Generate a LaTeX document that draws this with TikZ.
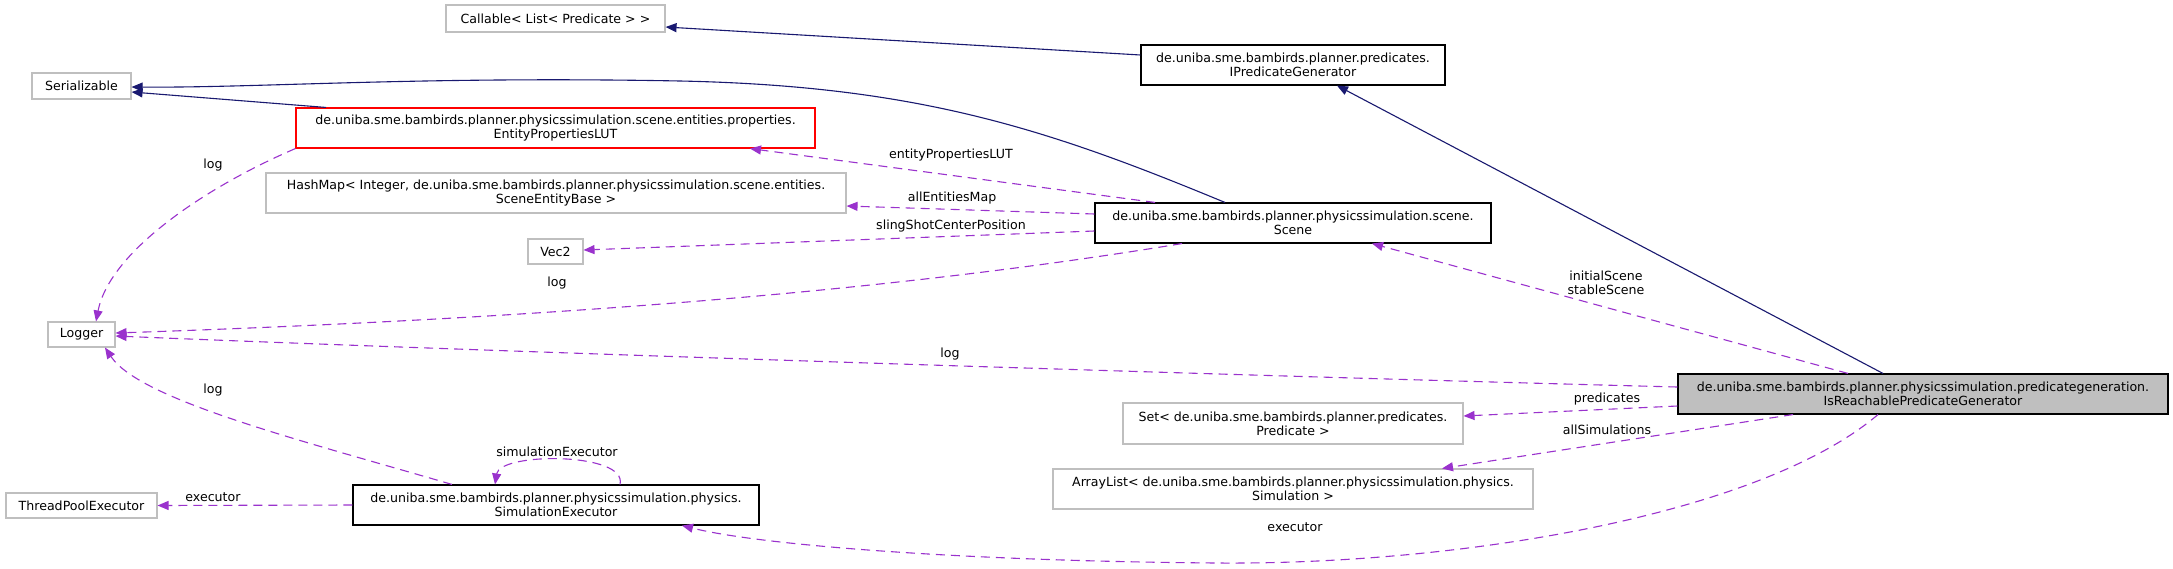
\documentclass[tikz,border=0pt]{standalone}
\usepackage{fontspec}
\setmainfont{DejaVu Sans}
\usetikzlibrary{arrows.meta,calc}
\definecolor{inhblue}{HTML}{191970}
\definecolor{usepurple}{HTML}{9A32CD}
\definecolor{extgray}{HTML}{BFBFBF}
\definecolor{boxred}{HTML}{FF0000}
\begin{document}
\begin{tikzpicture}[x=1pt,y=-1pt,
  font=\fontsize{12.6}{14}\selectfont,
  cls/.style={draw, rectangle, inner sep=0pt, align=center, line width=1.1pt},
  docbox/.style={cls, draw=black},
  extbox/.style={cls, draw=extgray},
  inh/.style={draw=inhblue, line width=1.1pt, -{Triangle[length=11pt,width=9pt]}},
  usage/.style={draw=usepurple, line width=1.1pt, dash pattern=on 9pt off 6pt, -{Triangle[length=11pt,width=9pt]}},
  lbl/.style={inner sep=0pt, align=center, text=black}
]
\useasboundingbox[fill=white] (0,0) rectangle (2173,568);

% nodes
\node[extbox, minimum width=219pt, minimum height=27pt] (callable) at (555.5,18.5) {Callable< List< Predicate > >};
\node[extbox, minimum width=99pt, minimum height=26pt] (serial) at (81.5,86) {Serializable};
\node[cls, draw=boxred, minimum width=519pt, minimum height=40pt] (entprops) at (555.5,128) {de.uniba.sme.bambirds.planner.physicssimulation.scene.entities.properties.\\EntityPropertiesLUT};
\node[docbox, minimum width=304pt, minimum height=40pt] (ipg) at (1293,65) {de.uniba.sme.bambirds.planner.predicates.\\IPredicateGenerator};
\node[extbox, minimum width=580pt, minimum height=40pt] (hashmap) at (556,193) {HashMap< Integer, de.uniba.sme.bambirds.planner.physicssimulation.scene.entities.\\SceneEntityBase >};
\node[docbox, minimum width=396pt, minimum height=40pt] (scene) at (1293,223) {de.uniba.sme.bambirds.planner.physicssimulation.scene.\\Scene};
\node[extbox, minimum width=55pt, minimum height=25pt] (vec2) at (555.5,251.5) {Vec2};
\node[extbox, minimum width=67pt, minimum height=25pt] (logger) at (81.5,334.5) {Logger};
\node[docbox, fill=extgray, minimum width=490pt, minimum height=40pt] (isr) at (1923,394) {de.uniba.sme.bambirds.planner.physicssimulation.predicategeneration.\\IsReachablePredicateGenerator};
\node[extbox, minimum width=340pt, minimum height=41pt] (setp) at (1293,423.5) {Set< de.uniba.sme.bambirds.planner.predicates.\\Predicate >};
\node[extbox, minimum width=480pt, minimum height=40pt] (arrl) at (1293,489) {ArrayList< de.uniba.sme.bambirds.planner.physicssimulation.physics.\\Simulation >};
\node[extbox, minimum width=151pt, minimum height=25pt] (tpool) at (81.5,505.5) {ThreadPoolExecutor};
\node[docbox, minimum width=406pt, minimum height=40pt] (simx) at (556,505) {de.uniba.sme.bambirds.planner.physicssimulation.physics.\\SimulationExecutor};

% inheritance edges
\draw[inh] ([yshift=10pt]ipg.west) -- ([yshift=-8.5pt]callable.east);
\draw[inh] ([xshift=-40pt]isr.north) -- ([xshift=44pt]ipg.south);
\draw[inh] ([xshift=-68pt]scene.north) .. controls (1050,130) and (920,86) .. (680,81) .. controls (420,76) and (260,88) .. ([yshift=-1pt]serial.east);
\draw[inh] ([xshift=-229.5pt]entprops.north) -- ([yshift=-6pt]serial.east);

% usage edges
\draw[usage] (entprops.south west) .. controls (210,185) and (110,250) .. ([xshift=14.5pt]logger.north);
\node[lbl] (llog1) at (213,165) {log};

\draw[usage] ([xshift=-138pt]scene.north) -- ([xshift=194.5pt]entprops.south);
\node[lbl] (lepl) at (951,155) {entityPropertiesLUT};

\draw[usage] ([yshift=9pt]scene.west) -- ([yshift=-13pt]hashmap.east);
\node[lbl] (laem) at (952,198) {allEntitiesMap};

\draw[usage] ([yshift=-8pt]scene.west) -- ([yshift=1.5pt]vec2.east);
\node[lbl] (lscp) at (951,226) {slingShotCenterPosition};

\draw[usage] ([xshift=-111pt]scene.south) .. controls (900,290) and (560,318) .. ([yshift=1.5pt]logger.east);
\node[lbl] (llog2) at (557,283) {log};

\draw[usage] ([yshift=7pt]isr.west) .. controls (1250,376) and (500,352) .. ([yshift=-1.5pt]logger.east);
\node[lbl] (llog3) at (950,354) {log};

\draw[usage] ([xshift=-75pt]isr.north) -- ([xshift=79pt]scene.south);
\node[lbl] (lscn) at (1606,283) {initialScene\\stableScene};

\draw[usage] ([yshift=-12pt]isr.west) -- ([yshift=7.5pt]setp.east);
\node[lbl] (lpred) at (1607,399) {predicates};

\draw[usage] ([xshift=-130pt]isr.south) -- ([xshift=149pt]arrl.north);
\node[lbl] (lsims) at (1607,430) {allSimulations};

\draw[usage] ([xshift=-45pt]isr.south) .. controls (1760,515) and (1460,565) .. (1217,563) .. controls (960,561) and (760,545) .. ([xshift=126pt]simx.south);
\node[lbl] (lexec1) at (1295,527) {executor};

\draw[usage] ([xshift=-104pt]simx.north) .. controls (300,440) and (140,400) .. ([xshift=23.5pt]logger.south);
\node[lbl] (llog4) at (213,390) {log};

\draw[usage] (simx.west) -- (tpool.east);
\node[lbl] (lexec2) at (213,497) {executor};

\draw[usage] ([xshift=64pt]simx.north) .. controls (628,452) and (500,452) .. ([xshift=-61pt]simx.north);
\node[lbl] (lsimx) at (557,452) {simulationExecutor};
\end{tikzpicture}
\end{document}
